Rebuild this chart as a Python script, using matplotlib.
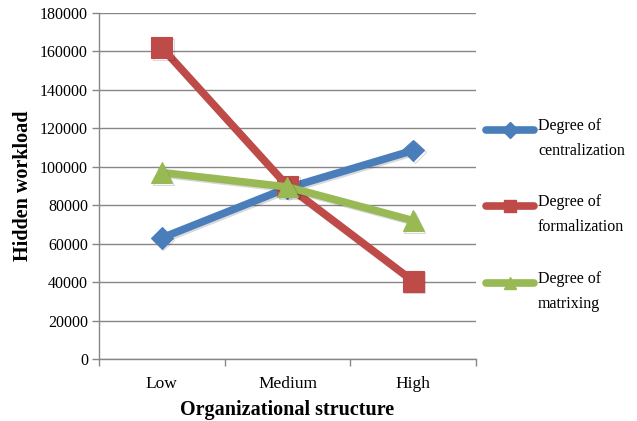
import matplotlib
matplotlib.use("Agg")
import matplotlib.pyplot as plt
from matplotlib.lines import Line2D
import matplotlib.patheffects as pe

categories = ["Low", "Medium", "High"]
centralization = [63000, 89000, 108500]
formalization = [162000, 90000, 40500]
matrixing = [97000, 89500, 72000]
series_labels = ["Degree of\ncentralization", "Degree of\nformalization", "Degree of\nmatrixing"]
yticks = [0, 20000, 40000, 60000, 80000, 100000, 120000, 140000, 160000, 180000]

plt.rcParams["font.family"] = ["Liberation Serif", "DejaVu Serif"]

colors = ["#4A7EBB", "#BE4B48", "#98B954"]
markers = ["D", "s", "^"]
msizes = [11, 15, 15]

fig = plt.figure(figsize=(6.37, 4.21), dpi=100)
ax = fig.add_axes([0.1554, 0.1473, 0.5918, 0.8218])

shadow = [pe.SimpleLineShadow(offset=(1.2, -1.2), alpha=0.15, shadow_color="black"), pe.Normal()]
x = list(range(len(categories)))
for vals, c, m, ms in zip([centralization, formalization, matrixing], colors, markers, msizes):
    ax.plot(x, vals, color=c, lw=5.5, marker=m, markersize=ms,
            markeredgecolor=c, markeredgewidth=0.8, solid_joinstyle="miter",
            path_effects=shadow, zorder=3)

ax.set_xlim(-0.5, 2.5)
ax.set_ylim(0, 180000)
ax.set_yticks(yticks)
ax.set_yticklabels([str(v) for v in yticks], fontsize=11.5)
ax.yaxis.grid(True, color="#878787", lw=1.0)
ax.set_axisbelow(True)

ax.set_xticks([-0.5, 0.5, 1.5, 2.5])
ax.set_xticklabels([])
ax.set_xticks(x, minor=True)
ax.set_xticklabels(categories, minor=True, fontsize=12.5)
ax.tick_params(axis="x", which="minor", length=0, pad=12)
ax.tick_params(axis="x", which="major", length=5, color="#878787", width=1.0)
ax.tick_params(axis="y", length=5, color="#878787", width=1.0, pad=3)

for s in ["top", "right"]:
    ax.spines[s].set_visible(False)
for s in ["left", "bottom"]:
    ax.spines[s].set_color("#878787")
    ax.spines[s].set_linewidth(1.0)

ax.set_ylabel("Hidden workload", fontsize=14.5, fontweight="bold", labelpad=5)
ax.set_xlabel("Organizational structure", fontsize=14.5, fontweight="bold", labelpad=6)

# legend drawn beside the axes, handle aligned with the first text line
legend_y = [130, 206, 283]
for ly, c, m, lab in zip(legend_y, colors, markers, series_labels):
    yf = 1 - ly / 421
    fig.add_artist(Line2D([486 / 637, 534 / 637], [yf, yf], transform=fig.transFigure,
                          color=c, lw=5.5, solid_capstyle="round"))
    fig.add_artist(Line2D([510 / 637], [yf], transform=fig.transFigure, color=c,
                          marker=m, markersize=9 if m != "D" else 8, markeredgecolor=c))
    fig.text(538 / 637, yf + 0.028, lab, fontsize=11.5, va="top", ha="left", linespacing=1.75)

fig.savefig("out.png", dpi=100)
